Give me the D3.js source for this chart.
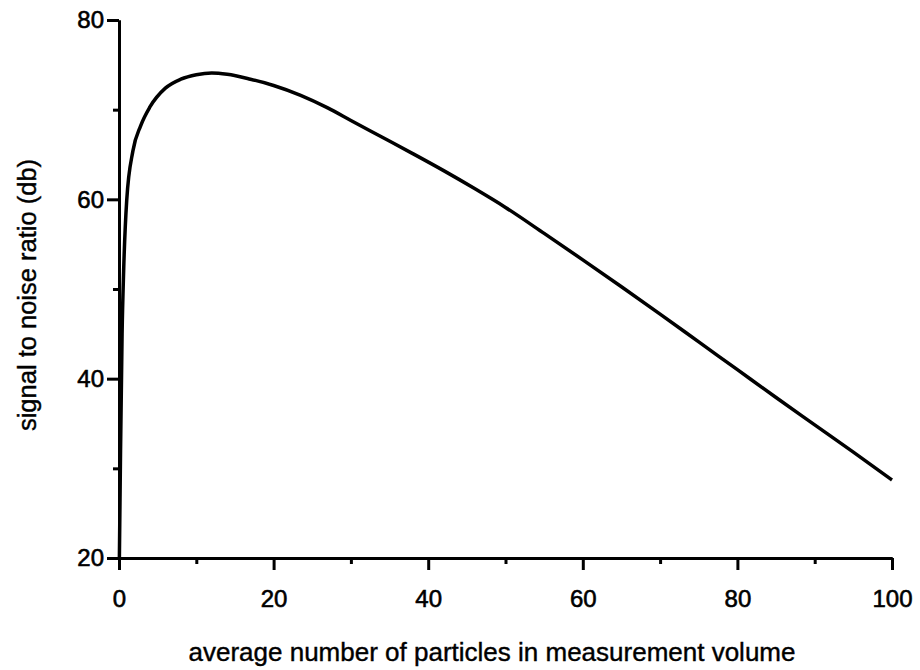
<!DOCTYPE html>
<html>
<head>
<meta charset="utf-8">
<script src="https://cdn.jsdelivr.net/npm/d3@7"></script>
<style>
  body { margin: 0; background: #fff; }
  svg text { font-family: "Liberation Sans", Arial, sans-serif; fill: #000; }
</style>
</head>
<body>
<div id="chart"></div>
<script>
const width = 920;
const height = 670;

// average number of particles vs signal to noise ratio (db)
const particles = [0.05, 0.2, 0.4, 0.6, 1.0, 1.8, 2.8, 4.0, 6.0, 8.0, 10, 12, 14, 17, 20, 23.5, 27, 30, 34, 38, 42, 46, 50, 55, 60, 65, 70, 75, 80, 85, 90, 95, 100];
const snr = [20, 32, 45, 52, 59.9, 65.4, 68.2, 70.3, 72.4, 73.4, 73.9, 74.1, 73.95, 73.4, 72.7, 71.6, 70.2, 68.8, 66.95, 65.1, 63.2, 61.2, 59.1, 56.2, 53.25, 50.25, 47.2, 44.1, 41.0, 37.9, 34.85, 31.8, 28.7];

const xMajor = [0, 20, 40, 60, 80, 100];
const xMinor = [10, 30, 50, 70, 90];
const yMajor = [20, 40, 60, 80];
const yMinor = [30, 50, 70];

const xLabel = 'average number of particles in measurement volume';
const yLabel = 'signal to noise ratio (db)';

const plotLeft = 119, plotRight = 892, plotTop = 20, plotBottom = 558;

var svg = d3.select('#chart')
            .append('svg')
            .attr('width', width)
            .attr('height', height);

var xScale = d3.scaleLinear().domain([0, 100]).range([plotLeft, plotRight]);
var yScale = d3.scaleLinear().domain([20, 80]).range([plotBottom, plotTop]);

function styleAxis(g){
    g.selectAll('path').attr('stroke', '#000').attr('stroke-width', 3);
    g.selectAll('line').attr('stroke', '#000').attr('stroke-width', 3);
    g.selectAll('text').attr('font-family', '"Liberation Sans", Arial, sans-serif')
        .attr('font-size', 24).attr('fill', '#000')
        .attr('stroke', '#000').attr('stroke-width', 0.6);
}

// minor ticks
svg.append('g')
    .attr('transform', 'translate(0,' + plotBottom + ')')
    .call(d3.axisBottom(xScale).tickValues(xMinor).tickSize(6).tickSizeOuter(0).tickFormat(''))
    .call(styleAxis);
svg.append('g')
    .attr('transform', 'translate(' + plotLeft + ',0)')
    .call(d3.axisLeft(yScale).tickValues(yMinor).tickSize(6).tickSizeOuter(0).tickFormat(''))
    .call(styleAxis);

// major ticks with labels
svg.append('g')
    .attr('transform', 'translate(0,' + plotBottom + ')')
    .call(d3.axisBottom(xScale).tickValues(xMajor).tickSize(12).tickSizeOuter(0).tickPadding(20))
    .call(styleAxis);
svg.append('g')
    .attr('transform', 'translate(' + plotLeft + ',0)')
    .call(d3.axisLeft(yScale).tickValues(yMajor).tickSize(12).tickSizeOuter(0).tickPadding(3))
    .call(styleAxis);

// curve
var line = d3.line()
    .x(function(d){ return xScale(d[0]); })
    .y(function(d){ return yScale(d[1]); })
    .curve(d3.curveMonotoneX);

svg.append('path')
    .datum(particles.map(function(p, i){ return [p, snr[i]]; }))
    .attr('d', line)
    .attr('fill', 'none')
    .attr('stroke', '#000')
    .attr('stroke-width', 3.5)
    .attr('stroke-linejoin', 'round');

// axis titles
svg.append('text')
    .attr('x', 492)
    .attr('y', 661)
    .attr('text-anchor', 'middle')
    .attr('font-size', 26)
    .attr('stroke', '#000')
    .attr('stroke-width', 0.4)
    .text(xLabel);

svg.append('text')
    .attr('transform', 'translate(36,295) rotate(-90)')
    .attr('text-anchor', 'middle')
    .attr('font-size', 25.5)
    .attr('stroke', '#000')
    .attr('stroke-width', 0.4)
    .text(yLabel);
</script>
</body>
</html>
